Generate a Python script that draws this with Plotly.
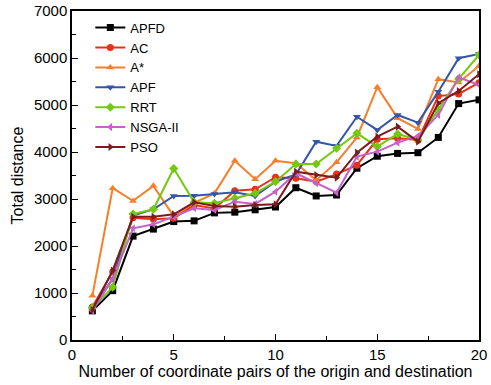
import plotly.graph_objects as go

x = list(range(1, 21))

apfd = [620, 1050, 2210, 2360, 2520, 2535, 2705, 2720, 2770, 2830, 3240, 3065, 3085, 3655, 3910, 3970, 3985, 4310, 5030, 5110]
ac = [700, 1450, 2600, 2570, 2590, 2870, 2800, 3175, 3205, 3465, 3440, 3370, 3530, 3720, 4270, 4290, 4256, 5190, 5235, 5475]
astar = [940, 3230, 2960, 3280, 2630, 2920, 3120, 3815, 3420, 3815, 3760, 3400, 3780, 4310, 5380, 4720, 4490, 5550, 5480, 5830]
apf = [680, 1300, 2650, 2780, 3065, 3070, 3107, 3145, 3064, 3369, 3520, 4220, 4130, 4750, 4469, 4788, 4625, 5284, 5995, 6086]
rrt = [680, 1125, 2680, 2781, 3650, 2930, 2909, 3015, 3122, 3369, 3745, 3745, 4079, 4398, 4114, 4384, 4256, 4894, 5554, 6065]
nsga = [620, 1300, 2376, 2461, 2624, 2802, 2766, 2943, 2894, 3156, 3547, 3334, 3135, 3901, 4007, 4199, 4341, 4788, 5590, 5426]
pso = [640, 1480, 2620, 2624, 2674, 2930, 2852, 2837, 2873, 2890, 3582, 3511, 3454, 3986, 4327, 4540, 4220, 5037, 5299, 5654]

names = ["APFD", "AC", "A*", "APF", "RRT", "NSGA-II", "PSO"]
series = [apfd, ac, astar, apf, rrt, nsga, pso]
colors = ["#000000", "#e8301c", "#f77f2c", "#3555a8", "#74c80f", "#c462c8", "#7a1c1c"]
symbols = ["square", "circle", "triangle-up", "triangle-down", "diamond", "triangle-left", "triangle-right"]

fig = go.Figure()
for n, s, c, m in zip(names, series, colors, symbols):
    fig.add_trace(go.Scatter(
        x=x, y=s, name=n, mode="lines+markers",
        line=dict(color=c, width=2),
        marker=dict(symbol=m, size=7, color=c),
    ))

axis_common = dict(
    showline=True, linecolor="black", linewidth=1.5, mirror=True,
    ticks="inside", ticklen=6, tickcolor="black", tickwidth=1,
    showgrid=False, zeroline=False, automargin=False,
    tickfont=dict(family="Liberation Sans, Arial", size=15, color="black"),
)

fig.update_layout(
    width=491, height=385,
    margin=dict(l=72, r=12, t=11, b=45),
    paper_bgcolor="white", plot_bgcolor="white",
    font=dict(family="Liberation Sans, Arial", size=14, color="black"),
    xaxis=dict(range=[0, 20], tickvals=[0, 5, 10, 15, 20],
               minor=dict(tickvals=[2.5, 7.5, 12.5, 17.5], ticks="inside", ticklen=4, tickcolor="black"),
               title=dict(text="Number of coordinate pairs of the origin and destination", standoff=2,
                          font=dict(size=16)),
               **axis_common),
    yaxis=dict(range=[0, 7000], tickvals=list(range(0, 7001, 1000)),
               minor=dict(tickvals=list(range(500, 7000, 1000)), ticks="inside", ticklen=4, tickcolor="black"),
               title=dict(text="Total distance", standoff=6, font=dict(size=16)),
               **axis_common),
    legend=dict(x=0.045, y=0.995, xanchor="left", yanchor="top", bgcolor="rgba(0,0,0,0)",
                font=dict(size=13), tracegroupgap=0, itemwidth=30),
    showlegend=True,
)

fig.write_html("out.html")
